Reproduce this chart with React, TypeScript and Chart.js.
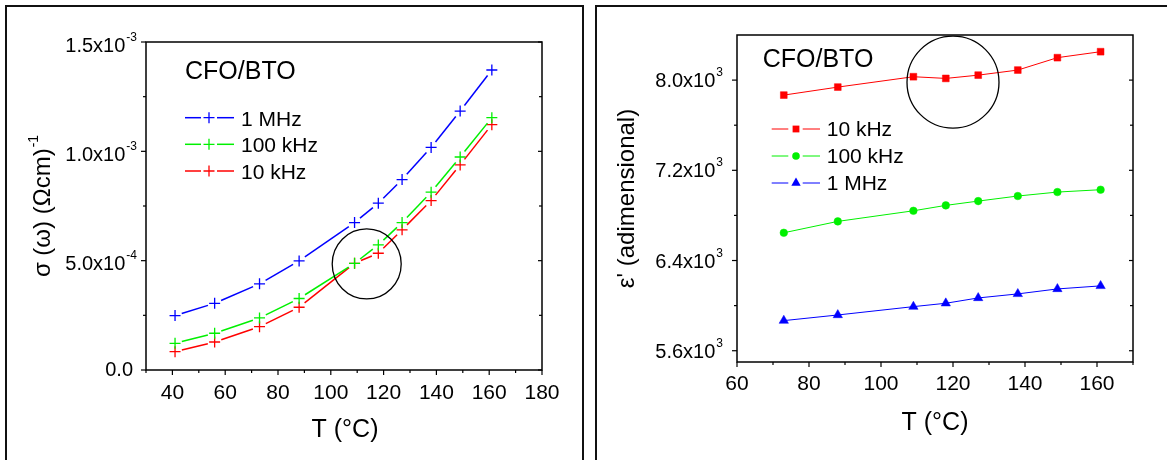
import React, { useEffect, useRef } from 'react';
import { Chart, registerables } from 'chart.js';

Chart.register(...registerables);

const FONT = '"Liberation Sans", Arial, Helvetica, sans-serif';

// ---------- Left panel data: sigma(omega) vs T ----------
const tempsSigma = [41, 56, 73, 88, 109, 118, 127, 138, 149, 161];
const sigma1MHz = [2.49e-4, 3.05e-4, 3.94e-4, 4.99e-4, 6.74e-4, 7.63e-4, 8.71e-4, 1.018e-3, 1.184e-3, 1.372e-3];
const sigma100kHz = [1.22e-4, 1.68e-4, 2.38e-4, 3.27e-4, 4.88e-4, 5.72e-4, 6.74e-4, 8.13e-4, 9.74e-4, 1.154e-3];
const sigma10kHz = [0.84e-4, 1.28e-4, 1.98e-4, 2.87e-4, 4.88e-4, 5.34e-4, 6.41e-4, 7.75e-4, 9.38e-4, 1.122e-3];

const sigmaXTicks = [40, 60, 80, 100, 120, 140, 160, 180];
const sigmaXTickLabels = ['40', '60', '80', '100', '120', '140', '160', '180'];
const sigmaXMinor = [30, 50, 70, 90, 110, 130, 150, 170];
const sigmaYTicks = [0, 5e-4, 1e-3, 1.5e-3];
const sigmaYTickMain = ['0.0', '5.0x10', '1.0x10', '1.5x10'];
const sigmaYTickExp = ['', '-4', '-3', '-3'];
const sigmaYMinor = [2.5e-4, 7.5e-4, 1.25e-3];

// ---------- Right panel data: epsilon' vs T ----------
const tempsEps = [73, 88, 109, 118, 127, 138, 149, 161];
const eps10kHz = [7867, 7938, 8030, 8015, 8044, 8089, 8199, 8252];
const eps100kHz = [6646, 6747, 6841, 6889, 6927, 6972, 7007, 7028];
const eps1MHz = [5867, 5917, 5991, 6021, 6068, 6104, 6148, 6175];

const epsXTicks = [60, 80, 100, 120, 140, 160];
const epsXTickLabels = ['60', '80', '100', '120', '140', '160'];
const epsXMinor = [70, 90, 110, 130, 150, 170];
const epsYTicks = [5600, 6400, 7200, 8000];
const epsYTickMain = ['5.6x10', '6.4x10', '7.2x10', '8.0x10'];
const epsYTickExp = ['3', '3', '3', '3'];
const epsYMinor = [6000, 6800, 7600];

const BLUE = '#0000ff';
const GREEN = '#00f000';
const RED = '#ff0000';

function drawMarker(ctx: CanvasRenderingContext2D, style: string, x: number, y: number, r: number, color: string) {
  ctx.save();
  ctx.strokeStyle = color;
  ctx.fillStyle = color;
  ctx.lineWidth = 1.3;
  ctx.setLineDash([]);
  ctx.beginPath();
  if (style === 'cross') {
    ctx.moveTo(x - r, y);
    ctx.lineTo(x + r, y);
    ctx.moveTo(x, y - r);
    ctx.lineTo(x, y + r);
    ctx.stroke();
  } else if (style === 'rect') {
    const s = r * Math.SQRT1_2;
    ctx.rect(x - s, y - s, 2 * s, 2 * s);
    ctx.fill();
  } else if (style === 'circle') {
    ctx.arc(x, y, r, 0, Math.PI * 2);
    ctx.fill();
  } else if (style === 'triangle') {
    for (let k = 0; k < 3; k++) {
      const ang = -Math.PI / 2 + (k * 2 * Math.PI) / 3;
      const px = x + Math.cos(ang) * r;
      const py = y + Math.sin(ang) * r;
      if (k === 0) ctx.moveTo(px, py);
      else ctx.lineTo(px, py);
    }
    ctx.closePath();
    ctx.fill();
  }
  ctx.restore();
}

type LegendEntry = { label: string; color: string; style: string; r: number; lw: number };

type PanelCfg = {
  xMajor: number[];
  xLabels: string[];
  xMinor: number[];
  yMajor: number[];
  yMain: string[];
  yExp: string[];
  yMinor: number[];
  xLabelDy: number;
  yLabelGap: number;
  yLabelDy: number;
  yLabelDyPlain: number;
  xTitle: string;
  xTitleX: number;
  xTitleY: number;
  yTitle: string;
  yTitleExp: string;
  yTitleX: number;
  yTitleFont: number;
  circle: { x: number; y: number; rx: number; ry: number };
  caption: { x: number; y: number };
  legend: { rows: number[]; seg1: [number, number]; seg2: [number, number]; mx: number; tx: number; tdy: number };
  entries: LegendEntry[];
};

function makeDecor(cfg: PanelCfg) {
  return {
    id: 'decor',
    afterDatasetsDraw(chart: any) {
      const { ctx, chartArea: a, scales } = chart;
      const xs = scales.x;
      const ys = scales.y;
      ctx.save();
      ctx.setLineDash([]);

      // annotation circle
      ctx.strokeStyle = '#000';
      ctx.lineWidth = 1.3;
      ctx.beginPath();
      ctx.ellipse(xs.getPixelForValue(cfg.circle.x), ys.getPixelForValue(cfg.circle.y), cfg.circle.rx, cfg.circle.ry, 0, 0, Math.PI * 2);
      ctx.stroke();

      // axes box
      ctx.lineWidth = 1.5;
      ctx.strokeStyle = '#000';
      ctx.strokeRect(a.left, a.top, a.right - a.left, a.bottom - a.top);

      const seg = (x1: number, y1: number, x2: number, y2: number) => {
        ctx.beginPath();
        ctx.moveTo(x1, y1);
        ctx.lineTo(x2, y2);
        ctx.stroke();
      };
      ctx.lineWidth = 1.2;
      cfg.xMajor.forEach((v) => {
        const p = xs.getPixelForValue(v);
        seg(p, a.bottom, p, a.bottom + 5);
      });
      cfg.xMinor.forEach((v) => {
        const p = xs.getPixelForValue(v);
        seg(p, a.bottom, p, a.bottom + 3);
      });
      cfg.yMajor.forEach((v) => {
        const p = ys.getPixelForValue(v);
        seg(a.left - 5, p, a.left, p);
        seg(a.right - 4, p, a.right, p);
      });
      cfg.yMinor.forEach((v) => {
        const p = ys.getPixelForValue(v);
        seg(a.left - 3, p, a.left, p);
        seg(a.right - 3, p, a.right, p);
      });

      // tick labels
      ctx.fillStyle = '#000';
      ctx.font = `21px ${FONT}`;
      ctx.textAlign = 'center';
      ctx.textBaseline = 'alphabetic';
      cfg.xMajor.forEach((v, i) => {
        ctx.fillText(cfg.xLabels[i], xs.getPixelForValue(v), a.bottom + cfg.xLabelDy);
      });
      cfg.yMajor.forEach((v, i) => {
        const p = ys.getPixelForValue(v);
        const right = a.left - cfg.yLabelGap;
        const main = cfg.yMain[i];
        const exp = cfg.yExp[i];
        ctx.font = `12px ${FONT}`;
        const ew = exp ? ctx.measureText(exp).width + 1 : 0;
        ctx.font = `20px ${FONT}`;
        const mw = ctx.measureText(main).width;
        ctx.textAlign = 'left';
        if (exp) {
          const base = p + cfg.yLabelDy;
          ctx.fillText(main, right - ew - mw, base);
          ctx.font = `12px ${FONT}`;
          ctx.fillText(exp, right - ew + 1, base - 11);
        } else {
          ctx.fillText(main, right - 4 - mw, p + cfg.yLabelDyPlain);
        }
      });

      // axis titles
      ctx.font = `25px ${FONT}`;
      ctx.textAlign = 'center';
      ctx.fillText(cfg.xTitle, cfg.xTitleX, cfg.xTitleY);

      ctx.save();
      const cy = (a.top + a.bottom) / 2;
      ctx.translate(cfg.yTitleX, cy);
      ctx.rotate(-Math.PI / 2);
      ctx.font = `${cfg.yTitleFont}px ${FONT}`;
      const tw = ctx.measureText(cfg.yTitle).width;
      ctx.font = `14px ${FONT}`;
      const tew = cfg.yTitleExp ? ctx.measureText(cfg.yTitleExp).width + 1 : 0;
      const start = -(tw + tew) / 2;
      ctx.textAlign = 'left';
      ctx.font = `${cfg.yTitleFont}px ${FONT}`;
      ctx.fillText(cfg.yTitle, start, 0);
      if (cfg.yTitleExp) {
        ctx.font = `14px ${FONT}`;
        ctx.fillText(cfg.yTitleExp, start + tw + 1, -12);
      }
      ctx.restore();

      // caption + legend
      ctx.textAlign = 'left';
      ctx.font = `25px ${FONT}`;
      ctx.fillText('CFO/BTO', cfg.caption.x, cfg.caption.y);
      ctx.font = `21px ${FONT}`;
      cfg.entries.forEach((e, i) => {
        const ry = cfg.legend.rows[i];
        ctx.strokeStyle = e.color;
        ctx.lineWidth = e.lw;
        seg(cfg.legend.seg1[0], ry, cfg.legend.seg1[1], ry);
        seg(cfg.legend.seg2[0], ry, cfg.legend.seg2[1], ry);
        drawMarker(ctx, e.style, cfg.legend.mx, ry, e.r, e.color);
        ctx.fillStyle = '#000';
        ctx.fillText(e.label, cfg.legend.tx, ry + cfg.legend.tdy);
      });

      ctx.restore();
    },
  };
}

function toXY(xs: number[], ys: number[]) {
  return xs.map((x, i) => ({ x, y: ys[i] }));
}

// Origin-style gap around each symbol: each segment is dashed so that
// only its middle part (away from the two symbols) is stroked.
const GAP = 7;
function segLen(c: any) {
  return Math.hypot(c.p1.x - c.p0.x, c.p1.y - c.p0.y);
}
const gapSegment = {
  borderDash: (c: any) => {
    const L = segLen(c);
    return L > 2 * GAP + 1 ? [L - 2 * GAP, 2 * GAP] : [0.001, L + 10];
  },
  borderDashOffset: (c: any) => {
    const L = segLen(c);
    return L > 2 * GAP + 1 ? L - GAP : 0;
  },
};

const sigmaCfg: PanelCfg = {
  xMajor: sigmaXTicks,
  xLabels: sigmaXTickLabels,
  xMinor: sigmaXMinor,
  yMajor: sigmaYTicks,
  yMain: sigmaYTickMain,
  yExp: sigmaYTickExp,
  yMinor: sigmaYMinor,
  xLabelDy: 29,
  yLabelGap: 9,
  yLabelDy: 9.5,
  yLabelDyPlain: 5.5,
  xTitle: 'T (°C)',
  xTitleX: 345,
  xTitleY: 437,
  yTitle: 'σ (ω) (Ωcm)',
  yTitleExp: '-1',
  yTitleX: 50,
  yTitleFont: 24,
  circle: { x: 113.6, y: 4.85e-4, rx: 34.5, ry: 35 },
  caption: { x: 185, y: 79 },
  legend: { rows: [117.7, 144.3, 171], seg1: [185, 201], seg2: [217, 234], mx: 209, tx: 241, tdy: 8 },
  entries: [
    { label: '1 MHz', color: BLUE, style: 'cross', r: 5.5, lw: 1.5 },
    { label: '100 kHz', color: GREEN, style: 'cross', r: 5.5, lw: 1.5 },
    { label: '10 kHz', color: RED, style: 'cross', r: 5.5, lw: 1.5 },
  ],
};

const epsCfg: PanelCfg = {
  xMajor: epsXTicks,
  xLabels: epsXTickLabels,
  xMinor: epsXMinor,
  yMajor: epsYTicks,
  yMain: epsYTickMain,
  yExp: epsYTickExp,
  yMinor: epsYMinor,
  xLabelDy: 28,
  yLabelGap: 14,
  yLabelDy: 7,
  yLabelDyPlain: 7,
  xTitle: 'T (°C)',
  xTitleX: 345,
  xTitleY: 430,
  yTitle: "ε' (adimensional)",
  yTitleExp: '',
  yTitleX: 44,
  yTitleFont: 24,
  circle: { x: 120, y: 7982, rx: 46, ry: 46 },
  caption: { x: 172.7, y: 66.7 },
  legend: { rows: [129, 156, 183], seg1: [181.7, 198.3], seg2: [212.7, 230], mx: 206, tx: 236.7, tdy: 7 },
  entries: [
    { label: '10 kHz', color: RED, style: 'rect', r: 4.8, lw: 1 },
    { label: '100 kHz', color: GREEN, style: 'circle', r: 3.8, lw: 1 },
    { label: '1 MHz', color: BLUE, style: 'triangle', r: 5.4, lw: 1 },
  ],
};

function SigmaChart() {
  const ref = useRef<HTMLCanvasElement | null>(null);
  useEffect(() => {
    if (!ref.current) return;
    const mk = (label: string, ys: number[], color: string) => ({
      label,
      data: toXY(tempsSigma, ys),
      borderColor: color,
      backgroundColor: color,
      borderWidth: 1.5,
      pointStyle: 'cross' as const,
      pointRadius: 5.5,
      pointBorderWidth: 1.3,
      pointBorderColor: color,
      tension: 0,
      fill: false,
      segment: gapSegment,
    });
    const chart = new Chart(ref.current, {
      type: 'line',
      data: {
        datasets: [mk('1 MHz', sigma1MHz, BLUE), mk('100 kHz', sigma100kHz, GREEN), mk('10 kHz', sigma10kHz, RED)],
      },
      options: {
        animation: false,
        responsive: false,
        events: [],
        layout: { padding: { left: 146, right: 48, top: 42, bottom: 90 } },
        plugins: { legend: { display: false }, tooltip: { enabled: false }, title: { display: false } },
        scales: {
          x: { type: 'linear', min: 30, max: 180, display: false },
          y: { type: 'linear', min: 0, max: 1.5e-3, display: false },
        },
      },
      plugins: [makeDecor(sigmaCfg)],
    });
    return () => chart.destroy();
  }, []);
  return <canvas ref={ref} width={590} height={460} style={{ position: 'absolute', left: 0, top: 0 }} />;
}

function EpsChart() {
  const ref = useRef<HTMLCanvasElement | null>(null);
  useEffect(() => {
    if (!ref.current) return;
    const mk = (label: string, ys: number[], color: string, style: string, r: number) => ({
      label,
      data: toXY(tempsEps, ys),
      borderColor: color,
      backgroundColor: color,
      borderWidth: 1,
      pointStyle: style as any,
      pointRadius: r,
      pointBorderWidth: 0.5,
      pointBorderColor: color,
      pointBackgroundColor: color,
      tension: 0,
      fill: false,
    });
    const chart = new Chart(ref.current, {
      type: 'line',
      data: {
        datasets: [
          mk('10 kHz', eps10kHz, RED, 'rect', 4.8),
          mk('100 kHz', eps100kHz, GREEN, 'circle', 3.8),
          mk('1 MHz', eps1MHz, BLUE, 'triangle', 5.4),
        ],
      },
      options: {
        animation: false,
        responsive: false,
        events: [],
        layout: { padding: { left: 147, right: 34, top: 35, bottom: 98 } },
        plugins: { legend: { display: false }, tooltip: { enabled: false }, title: { display: false } },
        scales: {
          x: { type: 'linear', min: 60, max: 170, display: false },
          y: { type: 'linear', min: 5500, max: 8400, display: false },
        },
      },
      plugins: [makeDecor(epsCfg)],
    });
    return () => chart.destroy();
  }, []);
  return <canvas ref={ref} width={577} height={460} style={{ position: 'absolute', left: 590, top: 0 }} />;
}

export default function App() {
  return (
    <div
      style={{
        position: 'fixed',
        left: 0,
        top: 0,
        width: 1167,
        height: 460,
        overflow: 'hidden',
        background: '#fff',
      }}
    >
      <div
        style={{
          position: 'absolute',
          left: 5,
          top: 5,
          width: 575,
          height: 520,
          border: '2px solid #111',
        }}
      />
      <div
        style={{
          position: 'absolute',
          left: 595,
          top: 5,
          width: 620,
          height: 520,
          border: '2px solid #111',
        }}
      />
      <SigmaChart />
      <EpsChart />
    </div>
  );
}
